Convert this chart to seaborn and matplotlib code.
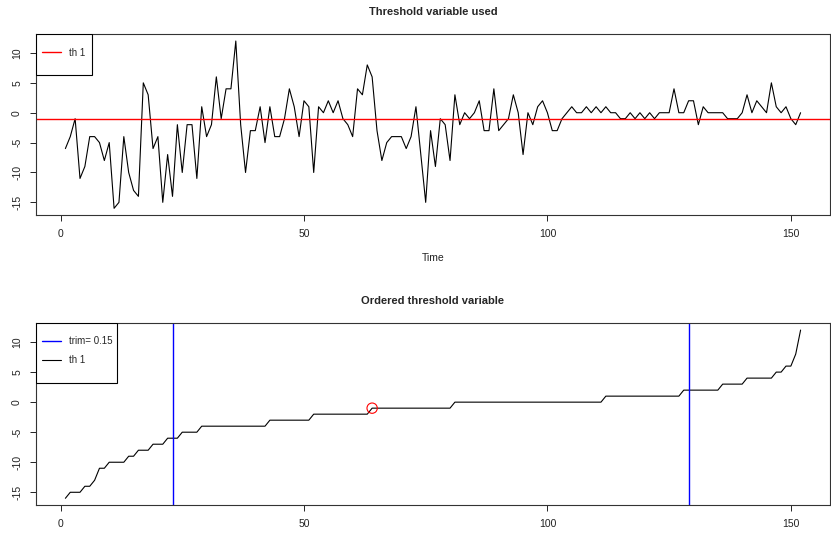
import numpy as np
import pandas as pd
import matplotlib
matplotlib.use("Agg")
import matplotlib.pyplot as plt
import matplotlib.patches as mpatches
import seaborn as sns
from matplotlib.lines import Line2D

# ---- data ----
th = [-6, -4, -1, -11, -9, -4, -4, -5, -8, -5,
      -16, -15, -4, -10, -13, -14, 5, 3, -6, -4,
      -15, -7, -14, -2, -10, -2, -2, -11, 1, -4,
      -2, 6, -1, 4, 4, 12, -2, -10, -3, -3,
      1, -5, 1, -4, -4, -1, 4, 1, -4, 2,
      1, -10, 1, 0, 2, 0, 2, -1, -2, -4,
      4, 3, 8, 6, -3, -8, -5, -4, -4, -4,
      -6, -4, 1, -7, -15, -3, -9, -1, -2, -8,
      3, -2, 0, -1, 0, 2, -3, -3, 4, -3,
      -2, -1, 3, 0, -7, 0, -2, 1, 2, 0,
      -3, -3, -1, 0, 1, 0, 0, 1, 0, 1,
      0, 1, 0, 0, -1, -1, 0, -1, 0, -1,
      0, -1, 0, 0, 0, 4, 0, 0, 2, 2,
      -2, 1, 0, 0, 0, 0, -1, -1, -1, 0,
      3, 0, 2, 1, 0, 5, 1, 0, 1, -1,
      -2, 0]
time = list(range(1, len(th) + 1))
threshold = -1
trim_label = "trim= 0.15"
trim_positions = [23, 129]
threshold_rank = 64
series_label = "th 1"
x_ticks = [0, 50, 100, 150]
y_ticks = [-15, -10, -5, 0, 5, 10]

RED = "#FF0000"
BLUE = "#0000FF"

sns.set_theme(style="white")
plt.rcParams['font.family'] = ['Liberation Sans', 'DejaVu Sans']

fig = plt.figure(figsize=(8.31, 5.33), dpi=100)
ax1 = fig.add_axes([0.0433, 0.5966, 0.9555, 0.3390])
ax2 = fig.add_axes([0.0433, 0.0525, 0.9555, 0.3409])

df = pd.DataFrame({"Time": time, "th": th})
ordered = pd.DataFrame({"idx": time, "val": np.sort(np.array(th))})

sns.lineplot(data=df, x="Time", y="th", ax=ax1, color="black", lw=0.8)
ax1.axhline(threshold, color=RED, lw=1.0)

sns.lineplot(data=ordered, x="idx", y="val", ax=ax2, color="black", lw=0.8)
for p in trim_positions:
    ax2.axvline(p, color=BLUE, lw=1.0)
sns.scatterplot(x=[threshold_rank], y=[threshold], ax=ax2, marker="o",
                s=55, facecolor="none", edgecolor=RED, linewidth=0.8, zorder=5)

n = len(th)
xr = (1 - 0.04 * (n - 1), n + 0.04 * (n - 1))
ymin, ymax = min(th), max(th)
yr = (ymin - 0.04 * (ymax - ymin), ymax + 0.04 * (ymax - ymin))

for ax in (ax1, ax2):
    ax.set_xlim(*xr)
    ax.set_ylim(*yr)
    ax.set_xticks(x_ticks)
    ax.set_yticks(y_ticks)
    ax.set_xticklabels([str(v) for v in x_ticks])
    ax.set_yticklabels([str(v) for v in y_ticks], rotation=90, va="center")
    ax.tick_params(axis="both", direction="out", length=4, width=0.6,
                   labelsize=7.5, pad=6, colors="black", labelcolor="#222222")
    ax.tick_params(bottom=True, left=True)
    for s in ax.spines.values():
        s.set_color("#333333")
        s.set_linewidth(0.8)
    ax.set_ylabel("")
    ax.grid(False)

ax1.set_xlabel("Time", fontsize=7.5, labelpad=10, color="#222222")
ax2.set_xlabel("")
ax1.set_title("Threshold variable used", fontsize=8, fontweight="bold", pad=14)
ax2.set_title("Ordered threshold variable", fontsize=8, fontweight="bold", pad=14)

leg_kw = dict(loc="upper left", frameon=False, fontsize=7, handlelength=2.0,
              borderpad=0, borderaxespad=0, handletextpad=0.8, labelspacing=0.95)

# top legend
box1 = mpatches.Rectangle((0, 1 - 0.2265), 0.0705, 0.2265, transform=ax1.transAxes,
                          facecolor="white", edgecolor="black", lw=0.8, zorder=4)
ax1.add_patch(box1)
leg1 = ax1.legend(handles=[Line2D([], [], color=RED, lw=1.0)], labels=[series_label],
                  bbox_to_anchor=(0.0076, 0.927), **leg_kw)
leg1.set_zorder(6)

# bottom legend
box2 = mpatches.Rectangle((0, 1 - 0.33), 0.102, 0.33, transform=ax2.transAxes,
                          facecolor="white", edgecolor="black", lw=0.8, zorder=4)
ax2.add_patch(box2)
leg2 = ax2.legend(handles=[Line2D([], [], color=BLUE, lw=1.0),
                           Line2D([], [], color="black", lw=0.8)],
                  labels=[trim_label, series_label],
                  bbox_to_anchor=(0.0076, 0.930), **leg_kw)
leg2.set_zorder(6)

fig.savefig("out.png", dpi=100)
